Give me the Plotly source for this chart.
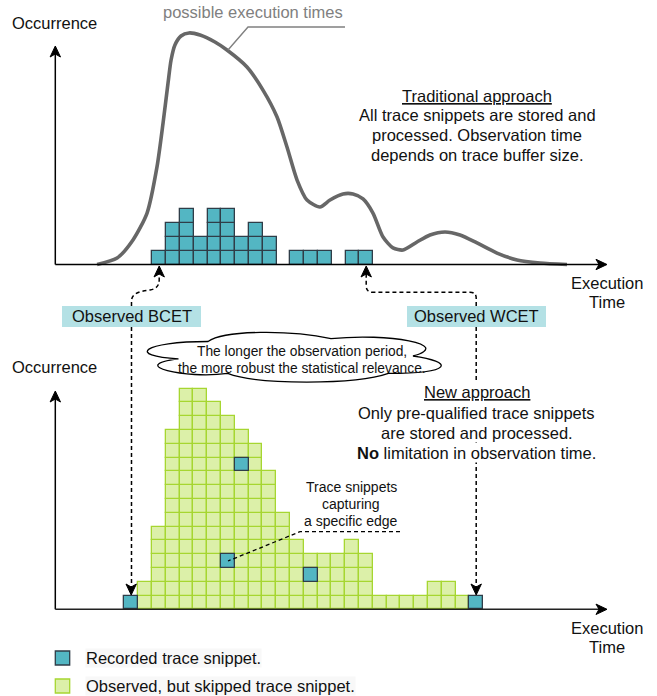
import plotly.graph_objects as go

W, H = 657, 696
CELL = 13.8                      # pixel size of one histogram cell
TOP_ORIGIN = (152.3, 264.5)      # pixel position of bin 0 / count 0 (upper chart)
BOT_ORIGIN = (124.3, 609.3)      # pixel position of bin 0 / count 0 (lower chart)
FONT = "Liberation Sans, Arial, Helvetica, sans-serif"

# ---------------- data ----------------
# upper chart: recorded snippets per execution-time bin (traditional approach)
top_bins = list(range(16))
top_counts = [1, 3, 4, 2, 4, 4, 2, 3, 2, 0, 1, 1, 1, 0, 1, 1]

# lower chart: observed snippets per bin (new approach)
bottom_bins = list(range(26))
bottom_counts = [1, 2, 6, 13, 16, 16, 15, 14, 13, 12, 10, 7, 5, 4, 4, 4, 5, 4,
                 1, 1, 1, 1, 2, 2, 1, 1]
# recorded snippets in the lower chart (bin, stack level)
recorded_bin = [0, 7, 8, 13, 25]
recorded_row = [0, 3, 10, 2, 0]

# "possible execution times" curve (bin units, count units)
curve_x = [-4.0, -2.55, -1.40, -0.38, 0.34, 0.78, 1.14, 1.36, 1.64, 2.08, 2.66,
           3.46, 4.54, 5.41, 6.86, 8.02, 9.04, 9.76, 10.49, 11.21, 12.15, 12.88,
           13.82, 14.54, 15.27, 15.99, 16.72, 17.44, 18.17, 19.18, 20.12, 21.21,
           22.30, 23.53, 24.98, 26.43, 28.10, 30.05]
curve_y = [0.0, 0.47, 1.78, 3.73, 7.07, 10.25, 13.15, 14.82, 15.91, 16.56, 16.78,
           16.63, 16.12, 15.54, 14.31, 12.64, 10.69, 8.51, 6.12, 4.67, 4.17, 4.67,
           5.11, 5.11, 4.75, 3.73, 1.99, 1.20, 1.05, 1.63, 2.14, 2.36, 2.14,
           1.56, 0.83, 0.33, 0.11, 0.0]

TEAL, TEAL_EDGE = "#53b6c3", "#2f3d48"
GREEN, GREEN_EDGE = "#dcf0a9", "#a6d631"

# ---------------- cells ----------------
def cells(bins, counts, skip=()):
    xs, bases = [], []
    for b, c in zip(bins, counts):
        for r in range(c):
            if (b, r) in skip:
                continue
            xs.append(b + 0.5)
            bases.append(r)
    return xs, bases

rec = set(zip(recorded_bin, recorded_row))
tx, tb = cells(top_bins, top_counts)
gx, gb = cells(bottom_bins, bottom_counts, rec)
rx = [b + 0.5 for b in recorded_bin]
rb = list(recorded_row)

fig = go.Figure()
fig.add_trace(go.Scatter(x=curve_x, y=curve_y, mode="lines",
                         line=dict(color="#676767", width=3.6, shape="spline", smoothing=0.7),
                         hoverinfo="skip", xaxis="x", yaxis="y"))
fig.add_trace(go.Bar(x=tx, y=[1] * len(tx), base=tb, width=1,
                     marker=dict(color=TEAL, line=dict(color=TEAL_EDGE, width=1.3)),
                     hoverinfo="skip", xaxis="x", yaxis="y"))
fig.add_trace(go.Bar(x=gx, y=[1] * len(gx), base=gb, width=1,
                     marker=dict(color=GREEN, line=dict(color=GREEN_EDGE, width=1.3)),
                     hoverinfo="skip", xaxis="x2", yaxis="y2"))
fig.add_trace(go.Bar(x=rx, y=[1] * len(rx), base=rb, width=1,
                     marker=dict(color=TEAL, line=dict(color=TEAL_EDGE, width=1.3)),
                     hoverinfo="skip", xaxis="x2", yaxis="y2"))

def rng(origin):
    ox, oy = origin
    return [(0 - ox) / CELL, (W - ox) / CELL], [(oy - H) / CELL, oy / CELL]

txr, tyr = rng(TOP_ORIGIN)
bxr, byr = rng(BOT_ORIGIN)

# ---------------- helpers (pixel -> paper) ----------------
def X(px):
    return px / W

def Y(py):
    return 1 - py / H

def path(cmds):
    out = []
    for c in cmds:
        op, pts = c[0], c[1:]
        if op == "Z":
            out.append("Z")
            continue
        coords = []
        for i in range(0, len(pts), 2):
            coords.append(f"{X(pts[i]):.5f},{Y(pts[i + 1]):.5f}")
        out.append(op + " ".join(coords))
    return " ".join(out)

shapes = []

def add_path(cmds, color="#000", width=1.5, dash=None, fill=None):
    shapes.append(dict(type="path", xref="paper", yref="paper", path=path(cmds),
                       line=dict(color=color, width=width, dash=dash),
                       fillcolor=fill, layer="above"))

def head(tx_, ty_, d, L=11, hw=5.2, notch=8):
    # drawio-style classic arrowhead
    if d == "up":
        pts = [(tx_, ty_), (tx_ - hw, ty_ + L), (tx_, ty_ + notch), (tx_ + hw, ty_ + L)]
    elif d == "down":
        pts = [(tx_, ty_), (tx_ - hw, ty_ - L), (tx_, ty_ - notch), (tx_ + hw, ty_ - L)]
    else:
        pts = [(tx_, ty_), (tx_ - L, ty_ - hw), (tx_ - notch, ty_), (tx_ - L, ty_ + hw)]
    cmds = [("M",) + pts[0]] + [("L",) + p for p in pts[1:]] + [("Z",)]
    add_path(cmds, color="#000", width=1, fill="#000")

def rect(x0, y0, x1, y1, fill, line=None, lw=0):
    shapes.append(dict(type="rect", xref="paper", yref="paper",
                       x0=X(x0), x1=X(x1), y0=Y(y1), y1=Y(y0),
                       fillcolor=fill, line=dict(color=line or fill, width=lw), layer="above"))

# axes (upper)
AX = 55.3
add_path([("M", AX, 264.5), ("L", AX, 52)])
head(AX, 46, "up")
add_path([("M", AX, 264.5), ("L", 600, 264.5)])
head(607, 264.5, "right")
# axes (lower)
add_path([("M", AX, 609.3), ("L", AX, 397)])
head(AX, 391, "up")
add_path([("M", AX, 609.3), ("L", 600, 609.3)], color="#222")
head(607, 609.3, "right")

# callout of the curve
add_path([("M", 228, 50), ("L", 248, 27), ("L", 345, 27)], color="#808080", width=1.4)

# observed BCET / WCET boxes
rect(62, 306, 201, 327, "#b4e1e5")
rect(407, 306, 546, 327, "#b4e1e5")

# dashed connectors
D = "4px,3px"
add_path([("M", 131.5, 306), ("L", 131.5, 301), ("C", 131.5, 293, 141, 291, 150, 290),
          ("C", 156, 289, 159.2, 286, 159.2, 280), ("L", 159.2, 274)], dash=D)
head(159.2, 266, "up")
add_path([("M", 476.2, 306), ("L", 476.2, 298), ("Q", 476.2, 292.3, 470, 292.3),
          ("L", 373, 292.3), ("Q", 366.2, 292.3, 366.2, 286), ("L", 366.2, 274)], dash=D)
head(366.2, 266, "up")
add_path([("M", 131.5, 327), ("L", 131.5, 587)], dash=D)
head(131.2, 595, "down")
add_path([("M", 476.2, 327), ("L", 476.2, 587)], dash=D)
head(476.2, 595, "down")

# pointer to the specific-edge snippets
add_path([("M", 400, 531.7), ("L", 300, 531.7), ("L", 228, 561)], dash=D, width=1.3)

# cloud (mxGraph cloud shape)
cx0, cy0, cw, ch = 126, 327, 328, 58
def cp(fx, fy):
    return (cx0 + fx * cw, cy0 + fy * ch)
cloud = [("M",) + cp(0.25, 0.25),
         ("C",) + cp(0.05, 0.25) + cp(0, 0.5) + cp(0.16, 0.55),
         ("C",) + cp(0, 0.66) + cp(0.18, 0.9) + cp(0.31, 0.8),
         ("C",) + cp(0.4, 1) + cp(0.7, 1) + cp(0.8, 0.8),
         ("C",) + cp(1, 0.8) + cp(1, 0.6) + cp(0.875, 0.5),
         ("C",) + cp(1, 0.3) + cp(0.8, 0.1) + cp(0.625, 0.2),
         ("C",) + cp(0.5, 0.05) + cp(0.3, 0.05) + cp(0.25, 0.25),
         ("Z",)]
add_path(cloud, color="#000", width=1.3, fill="#ffffff")

# legend squares
rect(55.3, 651, 69.7, 665, TEAL, TEAL_EDGE, 1.3)
rect(55.3, 679, 69.7, 693, GREEN, GREEN_EDGE, 1.3)

# ---------------- texts ----------------
anns = []
def txt(s, px, py, size=16.5, color="#111", xanchor="center", bg=None):
    anns.append(dict(text=s, x=X(px), y=Y(py), xref="paper", yref="paper",
                     xanchor=xanchor, yanchor="middle", showarrow=False,
                     font=dict(family=FONT, size=size, color=color),
                     bgcolor=bg, borderpad=0))

txt("possible execution times", 253, 12, color="#808080")
txt("Occurrence", 11, 23, xanchor="left")
txt("Occurrence", 11, 367, xanchor="left")
txt("<u>Traditional approach</u>", 477, 96)
txt("All trace snippets are stored and", 477, 115)
txt("processed. Observation time", 477, 135)
txt("depends on trace buffer size.", 477, 155)
txt("Execution", 607, 283)
txt("Time", 607, 302)
txt("Execution", 607, 628)
txt("Time", 607, 647)
txt("Observed BCET", 132, 316.5)
txt("Observed WCET", 476.5, 316.5)
txt("The longer the observation period,", 302, 351, size=13.8)
txt("the more robust the statistical relevance.", 302, 368, size=13.8)
txt("<u>New approach</u>", 476.5, 392.5, bg="white")
txt("Only pre-qualified trace snippets", 476.5, 412.5, bg="white")
txt("are stored and processed.", 476.5, 432.5, bg="white")
txt("<b>No</b> limitation in observation time.", 476.5, 452.5, bg="white")
txt("Trace snippets", 351, 487, size=14)
txt("capturing", 351, 504, size=14)
txt("a specific edge", 351, 521, size=14)
txt("Recorded trace snippet.", 85, 658, xanchor="left", bg="#f8f8f8")
txt("Observed, but skipped trace snippet.", 85, 686, xanchor="left", bg="#f8f8f8")

fig.update_layout(
    width=W, height=H, autosize=False,
    margin=dict(l=0, r=0, t=0, b=0, pad=0),
    paper_bgcolor="white", plot_bgcolor="rgba(0,0,0,0)",
    showlegend=False, barmode="overlay", bargap=0,
    xaxis=dict(domain=[0, 1], range=txr, visible=False, anchor="y", fixedrange=True),
    yaxis=dict(domain=[0, 1], range=tyr, visible=False, anchor="x", fixedrange=True),
    xaxis2=dict(domain=[0, 1], range=bxr, visible=False, anchor="y2", fixedrange=True),
    yaxis2=dict(domain=[0, 1], range=byr, visible=False, anchor="x2", fixedrange=True),
    shapes=shapes, annotations=anns,
)

fig.write_html("out.html", config={"displayModeBar": False},
               post_script="document.body.style.margin='0px';")
